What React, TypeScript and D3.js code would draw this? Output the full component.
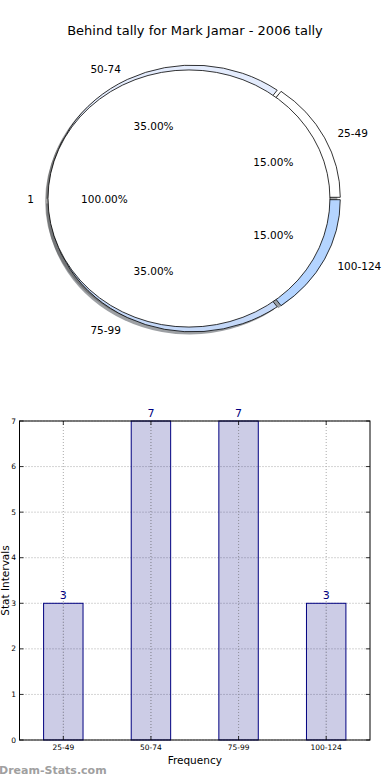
import React from "react";
import * as d3 from "d3";

const pieTitle = "Behind tally for Mark Jamar - 2006 tally";
const outerLabels = ["25-49", "50-74", "75-99", "100-124"];
const outerValues = [3, 7, 7, 3];
const outerColors = ["#ffffff", "#e4ecfd", "#c4d8f8", "#b4d4ff"];
const innerLabels = ["1"];
const innerValues = [20];
const innerColors = ["#ffffff"];

const barCategories = ["25-49", "50-74", "75-99", "100-124"];
const barValues = [3, 7, 7, 3];
const yTicks = [0, 1, 2, 3, 4, 5, 6, 7];
const xLabel = "Frequency";
const yLabel = "Stat Intervals";
const watermark = "Dream-Stats.com";

const FONT = "'DejaVu Sans', sans-serif";

type Wedge = { t1: number; t2: number; tm: number; frac: number; label: string; color: string };

function makeWedges(values: number[], labels: string[], colors: string[]): Wedge[] {
  const total = d3.sum(values);
  let acc = 0;
  return values.map((v, i) => {
    const t1 = (acc / total) * 2 * Math.PI;
    acc += v;
    const t2 = (acc / total) * 2 * Math.PI;
    return { t1, t2, tm: (t1 + t2) / 2, frac: v / total, label: labels[i], color: colors[i] };
  });
}

function shade(c: string) {
  const col = d3.rgb(c);
  return d3.rgb(col.r * 0.3, col.g * 0.3, col.b * 0.3).formatHex();
}

function Pie() {
  const CX = 194, CY = 198.5, SX = 143.7, SY = 131;
  const outer = makeWedges(outerValues, outerLabels, outerColors);
  const inner = makeWedges(innerValues, innerLabels, innerColors);
  const rOut = 1, exOut = 0.02;
  const rIn = 0.981, exIn = 0.035;
  const arc = d3.arc<any>();
  const path = (r: number, w: Wedge) =>
    arc({ innerRadius: 0, outerRadius: r, startAngle: Math.PI / 2 - w.t2, endAngle: Math.PI / 2 - w.t1 }) as string;
  const off = (w: Wedge, ex: number) => [ex * Math.cos(w.tm), -ex * Math.sin(w.tm)];
  const sh = 0.02;

  const labelEls: React.ReactNode[] = [];
  const addLabels = (ws: Wedge[], r: number, ex: number, key: string) => {
    ws.forEach((w, i) => {
      const [ox, oy] = off(w, ex);
      const lx = CX + (ox + 1.1 * r * Math.cos(w.tm)) * SX;
      const ly = CY + (oy - 1.1 * r * Math.sin(w.tm)) * SY;
      const px = CX + (ox + 0.6 * r * Math.cos(w.tm)) * SX;
      const py = CY + (oy - 0.6 * r * Math.sin(w.tm)) * SY;
      const anchor = Math.cos(w.tm) > 1e-9 ? "start" : "end";
      labelEls.push(
        <text key={key + "l" + i} x={lx} y={ly + 0.8} textAnchor={anchor} dominantBaseline="central"
          fontFamily={FONT} fontSize={10.5} fill="#000">{w.label}</text>
      );
      labelEls.push(
        <text key={key + "p" + i} x={px} y={py} textAnchor="middle" dominantBaseline="central"
          fontFamily={FONT} fontSize={10.5} fill="#000">{(w.frac * 100).toFixed(2) + "%"}</text>
      );
    });
  };
  addLabels(outer, rOut, exOut, "o");
  addLabels(inner, rIn, exIn, "i");

  return (
    <g>
      <text x={195} y={30} textAnchor="middle" dominantBaseline="central" fontFamily={FONT} fontSize={13}>{pieTitle}</text>
      <g transform={`translate(${CX},${CY}) scale(${SX},${SY})`}>
        {outer.map((w, i) => {
          const [ox, oy] = off(w, exOut);
          return <path key={"so" + i} d={path(rOut, w)} transform={`translate(${ox - sh},${oy + sh})`}
            fill={shade(w.color)} fillOpacity={0.5} stroke="none" />;
        })}
        {inner.map((w, i) => {
          const [ox, oy] = off(w, exIn);
          return <path key={"si" + i} d={path(rIn, w)} transform={`translate(${ox - sh},${oy + sh})`}
            fill={shade(w.color)} fillOpacity={0.5} stroke="none" />;
        })}
        {outer.map((w, i) => {
          const [ox, oy] = off(w, exOut);
          return <path key={"wo" + i} d={path(rOut, w)} transform={`translate(${ox},${oy})`}
            fill={w.color} stroke="#000" strokeWidth={0.8} vectorEffect="non-scaling-stroke" strokeLinejoin="round" />;
        })}
        {inner.map((w, i) => {
          const [ox, oy] = off(w, exIn);
          return <path key={"wi" + i} d={path(rIn, w)} transform={`translate(${ox},${oy})`}
            fill={w.color} stroke="#000" strokeWidth={0.8} vectorEffect="non-scaling-stroke" strokeLinejoin="round" />;
        })}
      </g>
      {labelEls}
    </g>
  );
}

function Bars() {
  const L = 19.5, R = 370, T = 421, B = 740;
  const x = d3.scaleLinear().domain([-0.5, barCategories.length - 0.5]).range([L, R]);
  const y = d3.scaleLinear().domain([0, 7]).range([B, T]);
  const bw = 0.45;
  const navy = "#000080";
  return (
    <g>
      {yTicks.map((t) => (
        <line key={"gy" + t} x1={L} x2={R} y1={y(t)} y2={y(t)} stroke="#aaa" strokeWidth={1} strokeDasharray="1,2" />
      ))}
      {barCategories.map((c, i) => (
        <line key={"gx" + c} x1={x(i)} x2={x(i)} y1={T} y2={B} stroke="#aaa" strokeWidth={1} strokeDasharray="1,2" />
      ))}
      {barValues.map((v, i) => (
        <rect key={"b" + i} x={x(i - bw / 2)} y={y(v)} width={x(bw) - x(0)} height={y(0) - y(v)}
          fill={navy} fillOpacity={0.2} stroke={navy} strokeWidth={1} />
      ))}
      {barCategories.map((c, i) => (
        <line key={"gx2" + c} x1={x(i)} x2={x(i)} y1={y(barValues[i])} y2={B} stroke="#999" strokeOpacity={0.6} strokeWidth={1} strokeDasharray="1,2" />
      ))}
      {barValues.map((v, i) => (
        <text key={"v" + i} x={x(i)} y={y(v) - 4.5} textAnchor="middle" fontFamily={FONT} fontSize={11} fill={navy}>{v}</text>
      ))}
      <rect x={L} y={T} width={R - L} height={B - T} fill="none" stroke="#000" strokeWidth={1} />
      {yTicks.map((t) => (
        <g key={"ty" + t}>
          <line x1={L} x2={L + 4} y1={y(t)} y2={y(t)} stroke="#000" strokeWidth={0.8} />
          <line x1={R - 4} x2={R} y1={y(t)} y2={y(t)} stroke="#000" strokeWidth={0.8} />
          <text x={16} y={y(t)} textAnchor="end" dominantBaseline="central" fontFamily={FONT} fontSize={7.5}>{t}</text>
        </g>
      ))}
      {barCategories.map((c, i) => (
        <g key={"tx" + c}>
          <line x1={x(i)} x2={x(i)} y1={B} y2={B - 4} stroke="#000" strokeWidth={0.8} />
          <line x1={x(i)} x2={x(i)} y1={T} y2={T + 4} stroke="#000" strokeWidth={0.8} />
          <text x={x(i)} y={747} textAnchor="middle" dominantBaseline="central" fontFamily={FONT} fontSize={7.5}>{c}</text>
        </g>
      ))}
      <text x={(L + R) / 2} y={760} textAnchor="middle" dominantBaseline="central" fontFamily={FONT} fontSize={10.5}>{xLabel}</text>
      <text transform={`translate(8.6,${(T + B) / 2}) rotate(-90)`} textAnchor="middle" fontFamily={FONT} fontSize={10.5}>{yLabel}</text>
      <text x={-1} y={774} fontFamily={FONT} fontSize={11} fontWeight="bold" fill="#a0a0a0">{watermark}</text>
    </g>
  );
}

export default function App() {
  return (
    <svg width={390} height={780} style={{ position: "absolute", left: 0, top: 0, background: "#fff" }}>
      <rect x={0} y={0} width={390} height={780} fill="#fff" />
      <Pie />
      <Bars />
    </svg>
  );
}
